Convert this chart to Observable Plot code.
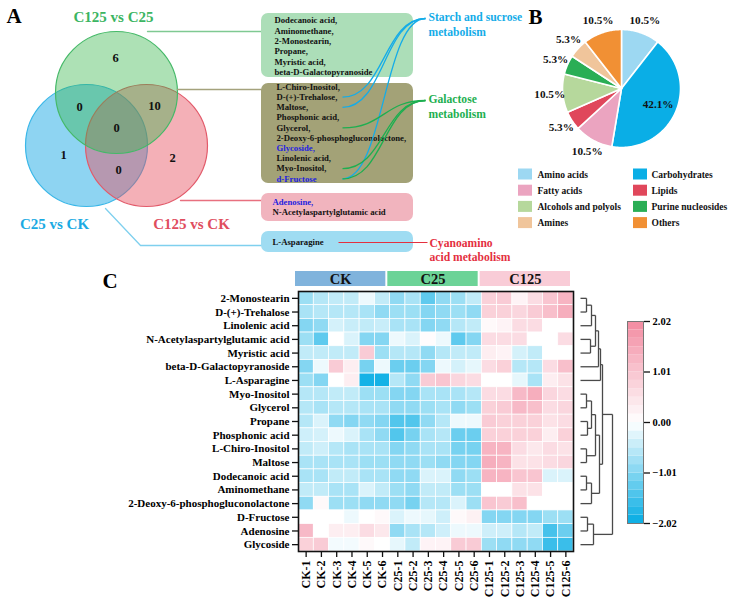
<!DOCTYPE html>
<html><head><meta charset="utf-8">
<script src="https://cdn.jsdelivr.net/npm/d3@7"></script>
<script src="https://cdn.jsdelivr.net/npm/@observablehq/plot@0.6"></script>
<style>
body{margin:0;background:#fff;}
#root{position:relative;width:730px;height:598px;overflow:hidden;font-family:"Liberation Serif",serif;}
#root > div{position:absolute;}
</style></head><body><div id="root"></div>
<script>
// ---------------- DATA ----------------
const vennSets = ["C125 vs C25", "C25 vs CK", "C125 vs CK"];
const vennCounts = [6, 0, 10, 0, 1, 2, 0];
const boxGreen = ["Dodecanoic acid,", "Aminomethane,", "2-Monostearin,", "Propane,", "Myristic acid,", "beta-D-Galactopyranoside"];
const boxOlive = ["L-Chiro-Inositol,", "D-(+)-Trehalose,", "Maltose,", "Phosphonic acid,", "Glycerol,", "2-Deoxy-6-phosphogluconolactone,", "Glycoside,", "Linolenic acid,", "Myo-Inositol,", "d-Fructose"];
const boxRed = ["Adenosine,", "N-Acetylaspartylglutamic acid"];
const boxBlue = ["L-Asparagine"];
const highlighted = ["Glycoside,", "d-Fructose", "Adenosine,"];
const pathwayStarch = ["Starch and sucrose", "metabolism"];
const pathwayGalactose = ["Galactose", "metabolism"];
const pathwayCyano = ["Cyanoamino", "acid metabolism"];
const starchMembers = ["D-(+)-Trehalose,", "Maltose,", "d-Fructose"];
const galactoseMembers = ["Glycerol,", "Myo-Inositol,", "d-Fructose"];

const pieCategories = ["Amino acids", "Carbohydrates", "Fatty acids", "Lipids", "Alcohols and polyols", "Purine nucleosides", "Amines", "Others"];
const pieCounts = [2, 8, 2, 1, 2, 1, 1, 2];
const legendRows = [["Amino acids", "Carbohydrates"], ["Fatty acids", "Lipids"], ["Alcohols and polyols", "Purine nucleosides"], ["Amines", "Others"]];

const compounds = ["2-Monostearin", "D-(+)-Trehalose", "Linolenic acid", "N-Acetylaspartylglutamic acid", "Myristic acid", "beta-D-Galactopyranoside", "L-Asparagine", "Myo-Inositol", "Glycerol", "Propane", "Phosphonic acid", "L-Chiro-Inositol", "Maltose", "Dodecanoic acid", "Aminomethane", "2-Deoxy-6-phosphogluconolactone", "D-Fructose", "Adenosine", "Glycoside"];
const samples = ["CK-1", "CK-2", "CK-3", "CK-4", "CK-5", "CK-6", "C25-1", "C25-2", "C25-3", "C25-4", "C25-5", "C25-6", "C125-1", "C125-2", "C125-3", "C125-4", "C125-5", "C125-6"];
const groups = ["CK", "C25", "C125"];
const values = [
  [-0.8,-0.6,-0.5,-0.5,-0.15,-0.5, -0.9,-0.7,-1.3,-0.9,-0.8,-0.5, 0.8,0.9,0.2,0.6,1.0,1.3],
  [-0.7,-0.6,-0.6,-0.6,-0.7,-0.9, -0.8,-0.8,-1.0,-0.9,-0.8,-0.9, 0.8,0.8,0.7,0.9,1.1,1.4],
  [-1.0,-0.9,-0.35,-0.45,-0.5,-0.45, -0.7,-0.7,-1.0,-0.9,-0.6,-0.5, 0.1,0.2,0.6,0.6,0,0],
  [-0.8,-1.3,0,-0.3,-1.0,-1.0, -0.15,-0.3,0.05,-0.15,-1.3,-1.0, 0.6,0.6,0.6,0,0,0.6],
  [-0.5,-0.5,-0.5,-0.5,0.9,-0.8, -0.6,-0.6,-0.9,-0.6,-0.5,-0.5, 0.3,0.2,-0.35,-0.5,0,0],
  [-1.0,-0.15,0.9,0.3,-1.1,-0.15, -1.2,-1.2,-1.0,-0.15,-0.35,-0.2, 0.6,0.8,-0.6,-0.6,0.6,1.1],
  [-0.8,-1.0,0,0.3,-1.9,-1.9, -0.6,-0.9,0.9,1.0,0.7,0.6, 0,0,-0.2,-0.7,0.3,0.5],
  [-0.6,-0.6,-0.5,-0.5,-0.8,-0.8, -1.0,-1.0,-0.7,-0.7,-0.7,-0.6, 0.6,0.6,1.2,1.4,0.7,0.6],
  [-0.6,-0.7,-0.6,-0.6,-0.7,-0.7, -0.9,-0.9,-0.8,-0.7,-0.9,-0.8, 0.8,0.9,1.2,1.1,0.6,0.7],
  [-0.6,-0.3,-0.9,-1.0,-0.9,-1.0, -1.4,-1.4,-0.9,-0.6,-0.15,-0.15, 0.9,0.8,0.8,0.8,0.5,0.6],
  [-0.4,-0.35,-0.15,-0.3,-0.7,-0.9, -1.4,-1.1,-0.7,-0.6,-1.2,-1.2, 0.8,0.8,0.8,0.8,0.3,0.8],
  [-0.5,-0.4,-0.6,-0.7,-0.7,-0.7, -1.0,-0.9,-0.7,-0.7,-1.1,-1.1, 1.3,1.3,0.6,0.4,0.6,0.5],
  [-0.7,-0.7,-0.7,-0.7,-0.8,-0.8, -0.9,-0.9,-0.8,-0.9,-1.0,-1.0, 1.4,1.3,0.5,0.5,0.6,0.7],
  [-0.7,-0.7,-0.5,-0.5,-0.7,-0.7, -0.9,-0.9,-0.3,-0.3,-0.9,-0.8, 1.3,1.3,1.0,1.0,-0.3,-0.3],
  [-0.5,-0.5,-0.7,-0.7,-0.3,-0.5, -0.8,-0.9,-0.5,-0.5,-0.8,-0.8, 0,0,0.5,0.5,0,0],
  [-0.9,0.1,-0.8,-0.8,-0.9,-0.9, -0.9,-1.1,-0.6,-0.6,-0.3,-0.8, 1.0,0.9,1.1,0,0,0],
  [0,0,0,-0.15,0,0.1, -0.3,-0.15,-0.2,-0.4,0.1,0.25, -1.0,-1.0,-1.0,-1.0,-0.8,-0.8],
  [1.2,0,0.3,0.3,0.6,0.4, -0.9,-0.7,-0.6,-0.4,-0.15,-0.15, -0.4,-0.4,-0.6,-0.5,-1.5,-1.2],
  [0.8,0.9,-0.1,-0.1,0.1,0, -0.2,-0.5,0.2,0.2,0.9,0.9, -0.8,-0.9,-0.9,-0.9,-1.6,-1.6]
];
// dendrogram: [mergeHeight, left, right]; numbers are row indexes
const tree = [32,
  [22,
    [20, [18, [15, [11, [6, 0, 1], 2], [10, 3, 4]], 5], 6],
    [19, [15, [11, [6, 7, 8], [7, 9, 10]], [6, 11, 12]], [11, [6, 13, 14], 15]]
  ],
  [13, [7, 16, 17], 18]
];
const colorTicks = [-2.02, -1.01, 0, 1.01, 2.02];

// ---------------- STYLE / LAYOUT ----------------
const FONT = "Liberation Serif";
const heatColors = ["#06ade4", "#ffffff", "#f28aa0"];
const pieColors = {"Amino acids": "#9dd8f2", "Carbohydrates": "#0aaee6", "Fatty acids": "#eba4c0", "Lipids": "#e0475b",
  "Alcohols and polyols": "#b6d89c", "Purine nucleosides": "#2aae55", "Amines": "#f0c59b", "Others": "#f19034"};
const groupColors = {"CK": "#80b3dc", "C25": "#6cd397", "C125": "#f9ccd7"};
const vennLayout = [
  {set: "C25 vs CK", cx: 86, cy: 145, fill: "#1da9e5", stroke: "#3ab7e8", lx: 54, ly: 224, lc: "#1aaae3"},
  {set: "C125 vs CK", cx: 146, cy: 145, fill: "#e7505f", stroke: "#e25a6a", lx: 191, ly: 224, lc: "#e04d5e"},
  {set: "C125 vs C25", cx: 116, cy: 92, fill: "#32b446", stroke: "#45b968", lx: 113, ly: 17, lc: "#3cb562"}
];
const vennOpacity = {"C25 vs CK": 0.5, "C125 vs CK": 0.45, "C125 vs C25": 0.4};
const vennR = 61;
const regionPos = [[115,57],[79,106],[154,105],[116,127],[63,154],[172,157],[118,169]];
const boxes = [
  {items: boxGreen, x1: 261, x2: 413, y1: 13, y2: 77, fill: "#acdeb8", tx: 274, ty: 20, dy: 10.4, line: [[147,31],[261,31]], lc: "#7fc992"},
  {items: boxOlive, x1: 261, x2: 413, y1: 83, y2: 183, fill: "#a3a277", tx: 276, ty: 86.5, dy: 10.2, line: [[177,89],[261,89]], lc: "#a4a27c"},
  {items: boxRed, x1: 261, x2: 413, y1: 193, y2: 221, fill: "#f1b4be", tx: 272, ty: 202, dy: 10.2, line: [[180,200],[261,200]], lc: "#e8707f"},
  {items: boxBlue, x1: 261, x2: 413, y1: 231, y2: 252, fill: "#9fdcf2", tx: 272, ty: 242, dy: 10.2, line: [[105,208],[140,245],[261,245]], lc: "#7fd0ee"}
];
const pathwayLayout = {starch: {x: 428, y: 17, c: "#14ace8"}, galactose: {x: 428, y: 99, c: "#1daf50"}, cyano: {x: 429, y: 243, c: "#e4303f"}};
const curveStartX = 342;
const P = {cx: 621, cy: 88, r: 59, rOut: 72, rIn: 40};

// ---------------- HELPERS ----------------
const root = document.getElementById("root");
function place(el, left, top, w, h) {
  const d = document.createElement("div");
  d.style.left = left + "px"; d.style.top = top + "px"; d.style.width = w + "px"; d.style.height = h + "px";
  d.appendChild(el); root.appendChild(d);
}
const baseStyle = {background: "none", overflow: "visible", fontFamily: FONT, fontWeight: "bold"};

// ---------------- PANEL A + B overlay ----------------
const itemRows = boxes.flatMap(b => b.items.map((t, i) => ({t, x: b.tx, y: b.ty + i * b.dy, hl: highlighted.includes(t)})));
const rowOf = (name, box) => { const i = box.items.indexOf(name); return box.ty + i * box.dy; };
const starchEnd = [pathwayLayout.starch.x - 3, pathwayLayout.starch.y + 1];
const galEnd = [pathwayLayout.galactose.x - 3, pathwayLayout.galactose.y + 1];
const curves = [
  ...starchMembers.map(m => ({x1: curveStartX, y1: rowOf(m, boxes[1]), x2: starchEnd[0], y2: starchEnd[1], c: pathwayLayout.starch.c})),
  ...galactoseMembers.map(m => ({x1: curveStartX, y1: rowOf(m, boxes[1]), x2: galEnd[0], y2: galEnd[1], c: pathwayLayout.galactose.c}))
];
const cyanoLink = [{x1: 338, y1: rowOf("L-Asparagine", boxes[3]), x2: 427, y2: rowOf("L-Asparagine", boxes[3])}];
const connectors = boxes.flatMap((b, k) => b.line.map(([x, y]) => ({k, x, y, c: b.lc})));

const total = d3.sum(pieCounts);
let acc = 0;
const slices = pieCategories.map((c, i) => {
  const a0 = acc / total * 2 * Math.PI; acc += pieCounts[i]; const a1 = acc / total * 2 * Math.PI;
  return {c, n: pieCounts[i], a0, a1, pct: (pieCounts[i] / total * 100).toFixed(1) + "%"};
});
const maxN = d3.max(pieCounts);
const piePts = slices.flatMap(s => {
  const pts = [{c: s.c, x: P.cx, y: P.cy}];
  const steps = Math.max(2, Math.ceil((s.a1 - s.a0) / (Math.PI / 180)));
  for (let k = 0; k <= steps; k++) {
    const a = s.a0 + (s.a1 - s.a0) * k / steps;
    pts.push({c: s.c, x: P.cx + P.r * Math.sin(a), y: P.cy - P.r * Math.cos(a)});
  }
  return pts;
});
const pieLabels = slices.map(s => {
  const a = (s.a0 + s.a1) / 2, R = s.n === maxN ? P.rIn : P.rOut;
  return {t: s.pct, x: P.cx + R * Math.sin(a), y: P.cy - R * Math.cos(a)};
});
const legendItems = legendRows.flatMap((row, r) => row.map((c, k) => ({c, sx: k === 0 ? 518 : 633, tx: k === 0 ? 537 : 651, y: 174 + r * 16.2})));

const overlay = Plot.plot({
  width: 730, height: 300, margin: 0,
  x: {type: "identity", axis: null}, y: {type: "identity", axis: null}, color: {type: "identity"},
  style: baseStyle,
  marks: [
    // Venn
    Plot.dot(vennLayout, {x: "cx", y: "cy", r: vennR, fill: "fill", fillOpacity: d => vennOpacity[d.set], stroke: "stroke", strokeWidth: 1.2}),
    Plot.text(regionPos.map((p, i) => ({x: p[0], y: p[1], t: String(vennCounts[i])})), {x: "x", y: "y", text: "t", fontFamily: FONT, fontWeight: "bold", fontSize: 12.5, fill: "#111"}),
    Plot.text(vennLayout, {x: "lx", y: "ly", text: "set", fill: "lc", fontFamily: FONT, fontWeight: "bold", fontSize: 15}),
    // connectors
    Plot.line(connectors, {x: "x", y: "y", z: "k", stroke: "c", strokeWidth: 1.3}),
    // boxes
    Plot.rect(boxes, {x1: "x1", x2: "x2", y1: "y1", y2: "y2", fill: "fill", rx: 7}),
    Plot.text(itemRows, {x: "x", y: "y", text: "t", textAnchor: "start", fill: d => d.hl ? "#1f1fe0" : "#111", fontFamily: FONT, fontWeight: "bold", fontSize: 8.7}),
    // pathway curves
    Plot.link(curves, {x1: "x1", y1: "y1", x2: "x2", y2: "y2", curve: "bump-x", stroke: "c", strokeWidth: 1.3}),
    Plot.link(cyanoLink, {x1: "x1", y1: "y1", x2: "x2", y2: "y2", stroke: pathwayLayout.cyano.c, strokeWidth: 1.1}),
    Plot.text(pathwayStarch, {x: pathwayLayout.starch.x, y: (d, i) => pathwayLayout.starch.y + i * 15, text: d => d, textAnchor: "start", fill: pathwayLayout.starch.c, fontFamily: FONT, fontWeight: "bold", fontSize: 11.6}),
    Plot.text(pathwayGalactose, {x: pathwayLayout.galactose.x, y: (d, i) => pathwayLayout.galactose.y + i * 14.5, text: d => d, textAnchor: "start", fill: pathwayLayout.galactose.c, fontFamily: FONT, fontWeight: "bold", fontSize: 11.6}),
    Plot.text(pathwayCyano, {x: pathwayLayout.cyano.x, y: (d, i) => pathwayLayout.cyano.y + i * 14, text: d => d, textAnchor: "start", fill: pathwayLayout.cyano.c, fontFamily: FONT, fontWeight: "bold", fontSize: 11.6}),
    // pie
    Plot.line(piePts, {x: "x", y: "y", z: "c", fill: d => pieColors[d.c], stroke: "white", strokeWidth: 1.6, curve: "linear-closed"}),
    Plot.text(pieLabels, {x: "x", y: "y", text: "t", fontFamily: FONT, fontWeight: "bold", fontSize: 11.2, fill: "#111"}),
    Plot.rect(legendItems, {x1: "sx", x2: d => d.sx + 14, y1: d => d.y - 5.5, y2: d => d.y + 5.5, fill: d => pieColors[d.c]}),
    Plot.text(legendItems, {x: "tx", y: "y", text: "c", textAnchor: "start", fontFamily: FONT, fontWeight: "bold", fontSize: 9.5, fill: "#111"}),
    // panel letters
    Plot.text([{t: "A", x: 6, y: 16}, {t: "B", x: 528, y: 17}, {t: "C", x: 102, y: 281}], {x: "x", y: "y", text: "t", textAnchor: "start", fontFamily: FONT, fontWeight: "bold", fontSize: 21, fill: "#000"})
  ]
});
place(overlay, 0, 0, 730, 300);

// ---------------- PANEL C: heatmap ----------------
const hmTop = 265, hmH = 333, mTop = 26, mBottom = 47, mLeft = 298, mRight = 157;
const hmData = compounds.flatMap((c, i) => samples.map((s, j) => ({compound: c, sample: s, v: values[i][j]})));
const colorScale = {type: "linear", domain: [-2.02, 0, 2.02], range: heatColors, clamp: true};
const heat = Plot.plot({
  width: 730, height: hmH, marginTop: mTop, marginBottom: mBottom, marginLeft: mLeft, marginRight: mRight,
  x: {domain: samples, padding: 0, round: false, label: null},
  y: {domain: compounds, padding: 0, round: false, label: null},
  color: colorScale,
  style: baseStyle,
  marks: [
    Plot.cell(hmData, {x: "sample", y: "compound", fill: "v", stroke: "white", strokeWidth: 0.7}),
    Plot.frame({stroke: "#111", strokeWidth: 1.6}),
    Plot.axisY({tickSize: 6, tickPadding: 3, fontSize: 11, fontFamily: FONT, fontWeight: "bold", stroke: "#111", strokeWidth: 1.3, label: null}),
    Plot.axisX({tickRotate: -90, tickSize: 6, tickPadding: 3, fontSize: 12, fontFamily: FONT, fontWeight: "bold", stroke: "#111", strokeWidth: 1.3, label: null})
  ]
});
place(heat, 0, hmTop, 730, hmH);

// group header bars
const groupSpans = groups.map(g => {
  const idx = samples.map((s, i) => [s, i]).filter(([s]) => s.startsWith(g + "-")).map(d => d[1]);
  return {g, x1: d3.min(idx), x2: d3.max(idx) + 1};
});
const header = Plot.plot({
  width: 730, height: 15, margin: 0, marginLeft: mLeft - 4, marginRight: mRight + 2,
  x: {domain: [0, samples.length], axis: null}, y: {domain: [0, 1], axis: null},
  style: baseStyle,
  marks: [
    Plot.rect(groupSpans, {x1: "x1", x2: "x2", y1: 0, y2: 1, fill: d => groupColors[d.g], insetLeft: 1, insetRight: 1}),
    Plot.text(groupSpans, {x: d => (d.x1 + d.x2) / 2, y: 0.5, text: "g", fontFamily: FONT, fontWeight: "bold", fontSize: 14.5, fill: "#111"})
  ]
});
place(header, 0, 271, 730, 15);

// dendrogram
const segs = [];
function walk(n) {
  if (typeof n === "number") return {y: n, h: 0};
  const [h, a, b] = n, A = walk(a), B = walk(b);
  segs.push({x1: A.h, y1: A.y, x2: h, y2: A.y}, {x1: B.h, y1: B.y, x2: h, y2: B.y}, {x1: h, y1: A.y, x2: h, y2: B.y});
  return {y: (A.y + B.y) / 2, h};
}
walk(tree);
const dendro = Plot.plot({
  width: 60, height: hmH, marginTop: mTop, marginBottom: mBottom, marginLeft: 5, marginRight: 23,
  x: {domain: [0, 32], axis: null}, y: {domain: [compounds.length - 0.5, -0.5], axis: null},
  style: baseStyle,
  marks: [Plot.link(segs, {x1: "x1", y1: "y1", x2: "x2", y2: "y2", stroke: "#4a4a4a", strokeWidth: 1.3})]
});
place(dendro, 575, hmTop, 60, hmH);

// color bar
const nSteps = 12, step = 2.02 / nSteps;
const bands = d3.range(-nSteps, nSteps).map(k => ({y1: k * step, y2: (k + 1) * step, m: (k + 0.5) * step}));
const cbar = Plot.plot({
  width: 130, height: hmH, marginTop: 56, marginBottom: hmH - 258, marginLeft: 27, marginRight: 87,
  x: {domain: [0, 1], axis: null}, y: {domain: [-2.02, 2.02], axis: null},
  color: colorScale,
  style: baseStyle,
  marks: [
    Plot.rect(bands, {x1: 0, x2: 1, y1: "y1", y2: "y2", fill: "m"}),
    Plot.frame({stroke: "#777", strokeWidth: 1}),
    Plot.axisY({anchor: "right", ticks: colorTicks, tickFormat: d => (d < 0 ? "\u2212" : "") + Math.abs(d).toFixed(2), tickSize: 6, tickPadding: 3, fontSize: 10.5, fontFamily: FONT, fontWeight: "bold", stroke: "#111", strokeWidth: 1.3, label: null})
  ]
});
place(cbar, 600, hmTop, 130, hmH);
</script>
</body></html>
